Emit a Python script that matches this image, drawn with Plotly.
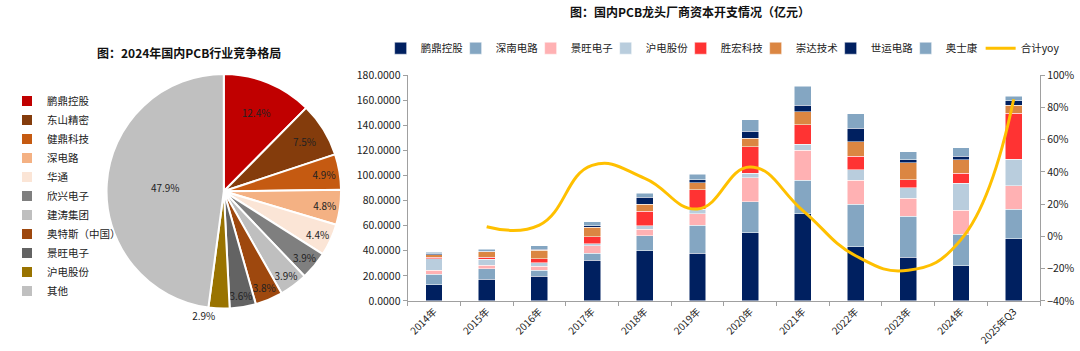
import plotly.graph_objects as go

# ---------------- Pie data ----------------
pie_labels = ["鹏鼎控股", "东山精密", "健鼎科技", "深电路", "华通", "欣兴电子",
              "建涛集团", "奥特斯（中国）", "景旺电子", "沪电股份", "其他"]
pie_values = [12.4, 7.5, 4.9, 4.8, 4.4, 3.9, 3.9, 3.8, 3.6, 2.9, 47.9]
pie_colors = ["#C00000", "#843C0C", "#C55A11", "#F4B183", "#FBE5D6", "#7F7F7F",
              "#BFBFBF", "#9E480E", "#636363", "#997300", "#C0C0C0"]

# ---------------- Bar data ----------------
years = ["2014年", "2015年", "2016年", "2017年", "2018年", "2019年", "2020年",
         "2021年", "2022年", "2023年", "2024年", "2025年Q3"]
pengding = [12.7, 17.1, 19.6, 32.6, 40.0, 37.9, 54.5, 69.3, 43.3, 34.6, 28.0, 49.4]
shennan = [8.7, 8.4, 4.8, 5.3, 11.9, 22.2, 24.7, 26.7, 33.8, 32.9, 25.2, 23.7]
jingwang = [3.0, 3.0, 3.4, 5.9, 5.4, 9.4, 19.1, 24.2, 18.9, 14.5, 18.9, 18.8]
hudian = [9.0, 4.6, 2.5, 1.8, 2.5, 3.6, 3.5, 4.6, 8.6, 8.1, 21.6, 20.9]
shenghong = [1.5, 1.5, 3.3, 5.6, 11.7, 15.5, 20.9, 15.7, 10.7, 6.4, 8.1, 36.7]
chongda = [1.8, 4.6, 6.9, 7.6, 5.6, 5.4, 6.9, 10.2, 11.7, 13.5, 10.5, 6.3]
shiyun = [1.0, 0.5, 0.7, 1.0, 5.4, 2.5, 5.6, 5.1, 10.5, 2.5, 2.8, 3.8]
aoshikang = [1.0, 1.3, 2.8, 3.1, 3.3, 4.6, 9.2, 15.3, 11.7, 6.4, 7.1, 3.3]
yoy_years = years[1:]
yoy = [6, 7, 44, 36, 17, 43, 16, -12, -21, -2, 85]

bar_series = [
    ("鹏鼎控股", pengding, "#002060"),
    ("深南电路", shennan, "#84A6C2"),
    ("景旺电子", jingwang, "#FFB1B3"),
    ("沪电股份", hudian, "#B9CDDD"),
    ("胜宏科技", shenghong, "#FF3333"),
    ("崇达技术", chongda, "#DB8642"),
    ("世运电路", shiyun, "#002060"),
    ("奥士康", aoshikang, "#84A6C2"),
]

FONT = "Noto Sans CJK SC"
W, H = 1080, 351

fig = go.Figure()

fig.add_trace(go.Pie(
    labels=pie_labels, values=pie_values, sort=False, direction="clockwise",
    rotation=0, marker=dict(colors=pie_colors, line=dict(color="white", width=2)),
    texttemplate="%{value:.1f}%", textinfo="text",
    textposition=["inside"] * 9 + ["outside", "inside"],
    insidetextorientation="horizontal",
    textfont=dict(size=10, color="#222222", family=FONT),
    domain=dict(x=[101 / W, 345 / W], y=[(H - 314) / H, (H - 69) / H]),
    legend="legend2", showlegend=True, hoverinfo="label+value",
))

for name, vals, col in bar_series:
    fig.add_trace(go.Bar(
        x=years, y=vals, name=name, marker=dict(color=col, line=dict(color="white", width=0.5)),
        xaxis="x", yaxis="y", legend="legend",
    ))

fig.add_trace(go.Scatter(
    x=yoy_years, y=yoy, name="合计yoy", mode="lines",
    line=dict(color="#FFC000", width=3, shape="spline", smoothing=1.3),
    xaxis="x", yaxis="y2", legend="legend", legendwidth=50,
))

fig.update_layout(
    width=W, height=H, margin=dict(l=0, r=0, t=0, b=0),
    paper_bgcolor="white", plot_bgcolor="white",
    font=dict(family=FONT, size=10, color="#222222"),
    barmode="stack", bargap=0.68,
    uniformtext=dict(minsize=10, mode="show"),
    xaxis=dict(domain=[407 / W, 1040 / W], anchor="y", type="category",
               showline=True, linecolor="#A0A0A0", linewidth=1,
               ticks="outside", tickson="boundaries", ticklen=4, tickcolor="#A0A0A0",
               tickangle=-45, tickfont=dict(size=10), showgrid=False),
    yaxis=dict(domain=[(H - 306) / H, (H - 70) / H], range=[0, 180], dtick=20,
               tickformat=".4f", showline=True, linecolor="#A0A0A0", linewidth=1,
               ticks="outside", ticklen=4, tickcolor="#A0A0A0", showgrid=False,
               zeroline=False, tickfont=dict(size=10.5)),
    yaxis2=dict(overlaying="y", side="right", anchor="x", range=[-40, 100], dtick=20,
                ticksuffix="%", showline=True, linecolor="#A0A0A0", linewidth=1,
                ticks="outside", ticklen=4, tickcolor="#A0A0A0", showgrid=False,
                zeroline=False, tickfont=dict(size=10.5)),
    legend=dict(orientation="h", x=380 / W, xanchor="left", y=(H - 42) / H,
                yanchor="middle", font=dict(size=10.5), traceorder="normal",
                bgcolor="rgba(0,0,0,0)", itemwidth=30, entrywidth=30,
                entrywidthmode="pixels"),
    legend2=dict(orientation="v", x=6 / W, xanchor="left", y=(H - 82) / H,
                 yanchor="top", font=dict(size=10.5), bgcolor="rgba(0,0,0,0)",
                 tracegroupgap=0),
    annotations=[
        dict(text="<b>图：2024年国内PCB行业竞争格局</b>", x=188 / W, y=(H - 46) / H,
             xref="paper", yref="paper", showarrow=False, font=dict(size=12, color="#111111"),
             xanchor="center", yanchor="middle"),
        dict(text="<b>图：国内PCB龙头厂商资本开支情况（亿元）</b>", x=690 / W, y=(H - 4) / H,
             xref="paper", yref="paper", showarrow=False, font=dict(size=12, color="#111111"),
             xanchor="center", yanchor="middle"),
    ],
)

fig.write_html("out.html")
